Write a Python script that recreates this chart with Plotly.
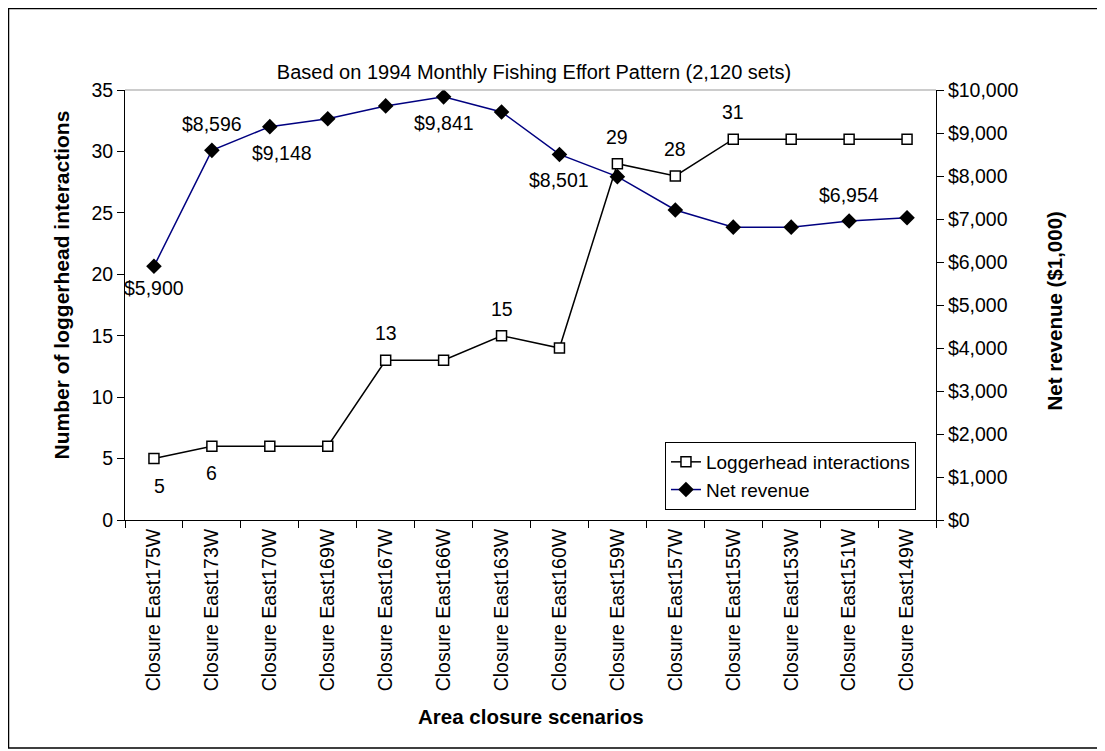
import plotly.graph_objects as go

categories = [
    "Closure East175W", "Closure East173W", "Closure East170W", "Closure East169W",
    "Closure East167W", "Closure East166W", "Closure East163W", "Closure East160W",
    "Closure East159W", "Closure East157W", "Closure East155W", "Closure East153W",
    "Closure East151W", "Closure East149W",
]
loggerhead = [5, 6, 6, 6, 13, 13, 15, 14, 29, 28, 31, 31, 31, 31]
net_revenue = [5900, 8596, 9148, 9330, 9630, 9841, 9490, 8501, 7985, 7210, 6810, 6810, 6954, 7030]

# which points carry a data label, and whether it sits above (+1) or below (-1)
loggerhead_labels = {0: -1, 1: -1, 4: 1, 6: 1, 8: 1, 9: 1, 10: 1}
revenue_labels = {0: -1, 1: 1, 2: -1, 5: -1, 7: -1, 12: 1}

FONT = "Arial, Liberation Sans, sans-serif"
W, H = 1097, 743
L, R, T, B = 117, 169, 82, 231
PW, PH = W - L - R, H - T - B

fig = go.Figure()
fig.add_trace(go.Scatter(
    x=categories, y=loggerhead, name="Loggerhead interactions",
    mode="lines+markers",
    line=dict(color="black", width=1.5),
    marker=dict(symbol="square", size=10, color="white", line=dict(color="black", width=1.5)),
))
fig.add_trace(go.Scatter(
    x=categories, y=net_revenue, name="Net revenue", yaxis="y2",
    mode="lines+markers",
    line=dict(color="#000080", width=1.5),
    marker=dict(symbol="diamond", size=12, color="black"),
))

for i, side in loggerhead_labels.items():
    fig.add_annotation(x=categories[i], y=loggerhead[i], text=str(loggerhead[i]),
                       showarrow=False, yshift=27 * side, xshift=6 if i == 0 else 0,
                       font=dict(size=19.5, color="black", family=FONT))
for i, side in revenue_labels.items():
    fig.add_annotation(x=categories[i], y=net_revenue[i], yref="y2",
                       text="${:,}".format(net_revenue[i]),
                       showarrow=False, yshift=(22 if i == 0 else 26) * side,
                       xshift=12 if i == 2 else 0,
                       font=dict(size=19.5, color="black", family=FONT))


def px_x(x):
    return (x - L) / PW


def px_y(y):
    return (H - B - y) / PH


# axis titles
fig.add_annotation(text="<b>Number of loggerhead interactions</b>", xref="paper", yref="paper",
                   x=px_x(39), y=px_y(277), textangle=-90, showarrow=False,
                   font=dict(size=21, family=FONT))
fig.add_annotation(text="<b>Net revenue ($1,000)</b>", xref="paper", yref="paper",
                   x=px_x(1059), y=px_y(303), textangle=-90, showarrow=False,
                   font=dict(size=20.5, family=FONT))
fig.add_annotation(text="<b>Area closure scenarios</b>", xref="paper", yref="paper",
                   x=0.5, y=px_y(722), showarrow=False,
                   font=dict(size=20.5, family=FONT))

# chart border and top edge of plot area
fig.add_shape(type="rect", xref="paper", yref="paper",
              x0=px_x(0.5), x1=px_x(1096), y0=px_y(740), y1=px_y(0.5),
              line=dict(color="black", width=1.5))
fig.add_shape(type="line", xref="paper", yref="paper", x0=0, x1=1, y0=1, y1=1,
              line=dict(color="#999999", width=1))

fig.update_layout(
    width=W, height=H,
    margin=dict(l=L, r=R, t=T, b=B),
    paper_bgcolor="white", plot_bgcolor="white",
    font=dict(family=FONT, color="black", size=19),
    title=dict(text="Based on 1994 Monthly Fishing Effort Pattern (2,120 sets)",
               x=px_x(526), xanchor="center", xref="paper", y=1 - 64 / H, yanchor="middle",
               font=dict(size=20, family=FONT)),
    xaxis=dict(
        type="category", range=[-0.5, 13.5], tickangle=-90,
        showline=True, linecolor="black", linewidth=1,
        ticks="outside", tickson="boundaries", ticklen=7, tickcolor="black",
        showgrid=False, zeroline=False,
        tickfont=dict(size=19.5),
    ),
    yaxis=dict(
        range=[0, 35], dtick=5, showline=True, linecolor="black", linewidth=1,
        ticks="outside", ticklen=7, tickcolor="black", showgrid=False, zeroline=False,
        tickfont=dict(size=19.5),
    ),
    yaxis2=dict(
        range=[0, 10000], dtick=1000, overlaying="y", side="right",
        tickprefix="$", tickformat=",",
        showline=True, linecolor="black", linewidth=1,
        ticks="outside", ticklen=7, tickcolor="black", showgrid=False, zeroline=False,
        tickfont=dict(size=19.5),
    ),
    legend=dict(
        x=0.9753, y=0.1814, xanchor="right", yanchor="top",
        bgcolor="white", bordercolor="black", borderwidth=1,
        font=dict(size=19), tracegroupgap=0,
    ),
    showlegend=True,
)

fig.write_html("out.html")
